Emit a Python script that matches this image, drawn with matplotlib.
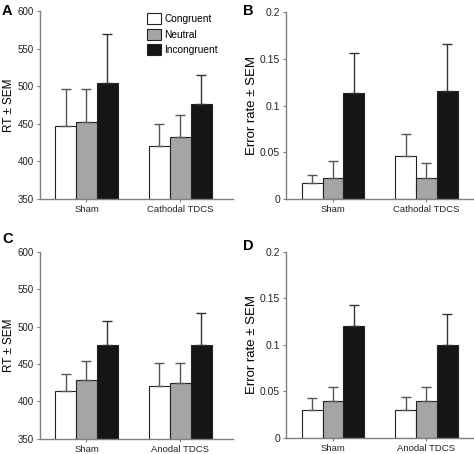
import matplotlib
matplotlib.use("Agg")
import matplotlib.pyplot as plt
import numpy as np
from matplotlib.patches import Patch

plt.rcParams['font.family'] = ['Liberation Sans', 'DejaVu Sans']

conditions = ["Congruent", "Neutral", "Incongruent"]
groups_top = ["Sham", "Cathodal TDCS"]
groups_bottom = ["Sham", "Anodal TDCS"]

# Panel A: RT (cathodal experiment)
rt_cath_mean = {"Sham": [447, 452, 504], "Cathodal TDCS": [421, 433, 476]}
rt_cath_sem = {"Sham": [49, 44, 66], "Cathodal TDCS": [29, 29, 39]}
# Panel B: error rate (cathodal experiment)
er_cath_mean = {"Sham": [0.017, 0.023, 0.113], "Cathodal TDCS": [0.046, 0.023, 0.116]}
er_cath_sem = {"Sham": [0.009, 0.018, 0.043], "Cathodal TDCS": [0.024, 0.016, 0.050]}
# Panel C: RT (anodal experiment)
rt_anod_mean = {"Sham": [414, 429, 475], "Anodal TDCS": [420, 424, 475]}
rt_anod_sem = {"Sham": [22, 25, 32], "Anodal TDCS": [32, 28, 44]}
# Panel D: error rate (anodal experiment)
er_anod_mean = {"Sham": [0.030, 0.040, 0.120], "Anodal TDCS": [0.030, 0.040, 0.100]}
er_anod_sem = {"Sham": [0.013, 0.014, 0.023], "Anodal TDCS": [0.014, 0.015, 0.033]}

rt_ticks = [350, 400, 450, 500, 550, 600]
er_ticks = [0, 0.05, 0.1, 0.15, 0.2]
er_ticklabels = ["0", "0.05", "0.1", "0.15", "0.2"]

face = ["white", "#a5a5a5", "#151515"]
errc = ["#555555", "#555555", "#333333"]
W = 0.223

fig = plt.figure(figsize=(4.74, 4.54), dpi=100)

def panel(rect, groups, means, sems, ylim, yticks, yticklabels, ylabel, ylsize, xlim, ytsize, letter, lpos):
    ax = fig.add_axes(rect)
    x = np.arange(len(groups))
    for i, c in enumerate(conditions):
        vals = [means[g][i] for g in groups]
        errs = [sems[g][i] for g in groups]
        pos = x + (i - 1) * W
        ax.bar(pos, vals, W, color=face[i], edgecolor="#222222", linewidth=0.8, zorder=2)
        ax.errorbar(pos, vals, yerr=[np.zeros(len(errs)), errs], fmt="none",
                    ecolor=errc[i], elinewidth=1.0, capsize=3.3, capthick=1.0, zorder=3)
    ax.set_ylim(*ylim)
    ax.set_xlim(*xlim)
    ax.set_yticks(yticks)
    ax.set_yticklabels(yticklabels, fontsize=ytsize)
    ax.set_xticks(x)
    ax.set_xticklabels(groups, fontsize=6.8)
    ax.set_ylabel(ylabel, fontsize=ylsize, labelpad=1.5)
    for s in ["top", "right"]:
        ax.spines[s].set_visible(False)
    for s in ["left", "bottom"]:
        ax.spines[s].set_color("#808080")
        ax.spines[s].set_linewidth(1.0)
    ax.tick_params(axis="both", colors="#808080", labelcolor="#222222", length=2.5, width=0.8, pad=2)
    fig.text(lpos[0], lpos[1], letter, fontsize=10.5, fontweight="bold", ha="left", va="top",
             family=['Liberation Sans', 'DejaVu Sans'])
    return ax

axA = panel([0.0844, 0.5617, 0.4072, 0.4141], groups_top, rt_cath_mean, rt_cath_sem,
            (350, 600), rt_ticks, [str(t) for t in rt_ticks], "RT \u00b1 SEM", 8.5, (-0.495, 1.56), 7,
            "A", (0.004, 0.992))
axB = panel([0.604, 0.5617, 0.394, 0.4114], groups_top, er_cath_mean, er_cath_sem,
            (0, 0.2), er_ticks, er_ticklabels, "Error rate \u00b1 SEM", 9.5, (-0.5, 1.5), 7.5,
            "B", (0.513, 0.992))
axC = panel([0.0844, 0.0337, 0.4072, 0.4112], groups_bottom, rt_anod_mean, rt_anod_sem,
            (350, 600), rt_ticks, [str(t) for t in rt_ticks], "RT \u00b1 SEM", 8.5, (-0.495, 1.56), 7,
            "C", (0.004, 0.488))
axD = panel([0.604, 0.0359, 0.394, 0.4097], groups_bottom, er_anod_mean, er_anod_sem,
            (0, 0.2), er_ticks, er_ticklabels, "Error rate \u00b1 SEM", 9.5, (-0.5, 1.5), 7.5,
            "D", (0.513, 0.473))

handles = [Patch(facecolor=face[i], edgecolor="#222222", linewidth=0.8, label=c)
           for i, c in enumerate(conditions)]
axA.legend(handles=handles, loc="upper left", bbox_to_anchor=(0.535, 1.01), frameon=False,
           fontsize=7.3, handlelength=1.35, handleheight=1.3, handletextpad=0.3, labelspacing=0.45,
           borderaxespad=0)

fig.savefig("out.png", dpi=100)
